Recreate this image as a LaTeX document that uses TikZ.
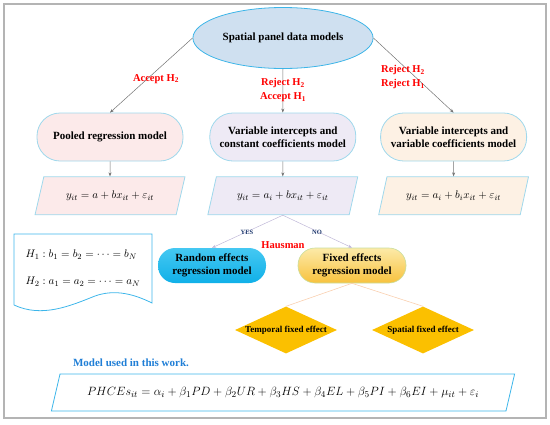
\documentclass[tikz,border=0pt]{standalone}
\usepackage{fontspec}
\setmainfont{Liberation Serif}
\usetikzlibrary{arrows.meta,positioning,shapes.geometric}
\definecolor{framegray}{HTML}{B4B4B4}
\definecolor{ovalfill}{HTML}{CFE0F0}
\definecolor{ovalline}{HTML}{3DB5E8}
\definecolor{skyline}{HTML}{9FD8EC}
\definecolor{pinkfill}{HTML}{FCEAEA}
\definecolor{lavfill}{HTML}{EEEAF5}
\definecolor{peachfill}{HTML}{FDF1E4}
\definecolor{randtop}{HTML}{45C8F2}
\definecolor{randbot}{HTML}{10B0E8}
\definecolor{fixtop}{HTML}{FCEAA8}
\definecolor{fixbot}{HTML}{F8C23E}
\definecolor{fixline}{HTML}{C9DE9E}
\definecolor{effgold}{HTML}{FBC000}
\definecolor{modelblue}{HTML}{1F7ED6}
\definecolor{hypline}{HTML}{3DB6EA}
\definecolor{lavline}{HTML}{C0B8D8}
\definecolor{orangeline}{HTML}{F9D0B0}
\definecolor{navytext}{HTML}{1F3A6E}
\tikzset{
  modelbox/.style={draw=skyline, line width=0.8pt, rounded corners=23pt, align=center, minimum width=146pt, minimum height=48pt, font=\fontsize{11}{12.5}\selectfont\bfseries},
  eqbox/.style={draw=skyline, line width=0.8pt, trapezium, trapezium left angle=69, trapezium right angle=111, trapezium stretches=true, minimum width=150pt, minimum height=38pt, font=\fontsize{11}{13}\selectfont},
  choicebox/.style={rounded corners=17pt, align=center, minimum width=108pt, minimum height=35pt, font=\fontsize{11}{12.5}\selectfont\bfseries},
  effectdiamond/.style={diamond, aspect=2.17, fill=effgold, inner sep=0pt, minimum width=102pt, minimum height=47pt, font=\fontsize{9}{10}\selectfont\bfseries},
  testlabel/.style={text=red, align=center, font=\fontsize{10.5}{14}\selectfont\bfseries},
  answerlabel/.style={text=navytext, font=\fontsize{6.5}{7}\selectfont\bfseries},
  flowarrow/.style={-{Stealth[length=4pt,width=3pt]}, line width=0.5pt, draw=black!55},
}
\begin{document}
\begin{tikzpicture}[x=1pt, y=-1pt]
    \useasboundingbox (0,0) rectangle (550,424);
    \draw[framegray, line width=1.5pt] (4,4) rectangle (546,418);
    % top level
    \node[ellipse, draw=ovalline, fill=ovalfill, line width=0.8pt, minimum width=141pt, minimum height=61pt, font=\fontsize{11}{12.5}\selectfont\bfseries] (sp) at (283,38) {Spatial panel data models};
    \node[modelbox, fill=pinkfill] (pool) at (110,137) {Pooled regression model};
    \node[modelbox, fill=lavfill, right=26pt of pool] (vic) {Variable intercepts and\\constant coefficients model};
    \node[modelbox, fill=peachfill, right=24pt of vic] (viv) {Variable intercepts and\\variable coefficients model};
    \node[eqbox, fill=pinkfill, below=15pt of pool] (pooleq) {$y_{it}=a+bx_{it}+\varepsilon_{it}$};
    \node[eqbox, fill=lavfill, below=15pt of vic] (viceq) {$y_{it}=a_i+bx_{it}+\varepsilon_{it}$};
    \node[eqbox, fill=peachfill, below=15pt of viv] (viveq) {$y_{it}=a_i+b_ix_{it}+\varepsilon_{it}$};
    % Hausman test
    \node[choicebox, top color=randtop, bottom color=randbot] (rand) at (212,265.5) {Random effects\\regression model};
    \node[choicebox, draw=fixline, line width=0.6pt, top color=fixtop, bottom color=fixbot] (fixd) at (352,265.5) {Fixed effects\\regression model};
    \node[effectdiamond] (temp) at (286,330) {Temporal fixed effect};
    \node[effectdiamond] (spat) at (423,330) {Spatial fixed effect};
    % hypotheses
    \node[align=left, font=\fontsize{11}{27}\selectfont] (hyp) at (83,268) {$H_1 : b_1 = b_2 = \cdots = b_N$\\$H_2 : a_1 = a_2 = \cdots = a_N$};
    \draw[hypline, line width=0.8pt] (14,305) -- (14,234) -- (152,234) -- (152,303)
        .. controls (130,292) and (112,290) .. (95,296)
        .. controls (70,306) and (42,318) .. (14,305);
    % model of this work
    \node[text=modelblue, font=\fontsize{11}{12.5}\selectfont\bfseries] (usedlabel) at (131,363) {Model used in this work.};
    \node[eqbox, draw=hypline, fill=white, trapezium left angle=66, trapezium right angle=114, minimum width=464pt, minimum height=37pt, font=\fontsize{12.5}{14}\selectfont] (modeq) at (283,392.5) {$PHCEs_{it} = \alpha_i + \beta_1 PD + \beta_2 UR + \beta_3 HS + \beta_4 EL + \beta_5 PI + \beta_6 EI + \mu_{it} + \varepsilon_i$};
    % connectors
    \draw[flowarrow] (sp.west) -- (pool.north);
    \draw[flowarrow] (sp.south) -- (vic.north);
    \draw[flowarrow] (sp.east) -- (viv.north);
    \draw[flowarrow] (pool) -- (pooleq);
    \draw[flowarrow] (vic) -- (viceq);
    \draw[flowarrow] (viv) -- (viveq);
    \draw[flowarrow, draw=lavline] (viceq.south) -- (rand.north);
    \draw[flowarrow, draw=lavline] (viceq.south) -- (fixd.north);
    \draw[orangeline, line width=0.6pt] (fixd.south) -- (temp.north);
    \draw[orangeline, line width=0.6pt] (fixd.south) -- (spat.north);
    % test labels
    \node[testlabel] (acc2) at (156,79) {Accept H\textsubscript{2}};
    \node[testlabel] (midtest) at (283,90) {Reject H\textsubscript{2}\\Accept H\textsubscript{1}};
    \node[testlabel] (righttest) at (403,77) {Reject H\textsubscript{2}\\Reject H\textsubscript{1}};
    \node[answerlabel] (yes) at (247,232) {YES};
    \node[answerlabel] (no) at (317,232) {NO};
    \node[testlabel] (haus) at (283,245) {Hausman};
\end{tikzpicture}
\end{document}
